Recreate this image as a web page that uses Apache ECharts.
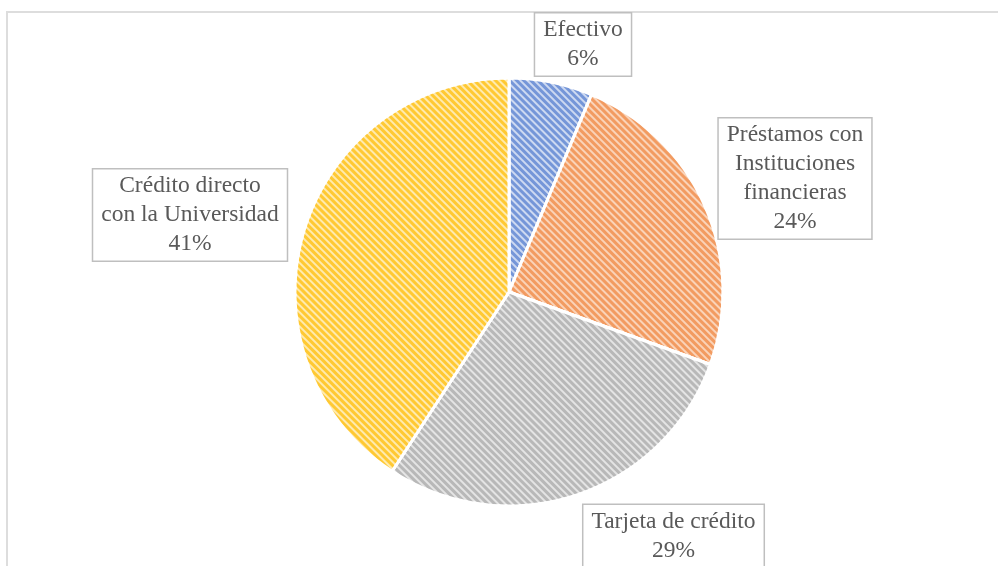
<!DOCTYPE html>
<html>
<head>
<meta charset="utf-8">
<script src="https://cdn.jsdelivr.net/npm/echarts@6/dist/echarts.min.js"></script>
<style>
html,body{margin:0;padding:0;background:#fff;}
#c{width:998px;height:566px;}
</style>
</head>
<body>
<div id="c"></div>
<script>
// Data
var categories = ['Efectivo', 'Préstamos con\nInstituciones\nfinancieras', 'Tarjeta de crédito', 'Crédito directo\ncon la Universidad'];
var values = [6.3, 24.2, 28.7, 40.8];

// Styles
var baseColors = ['#CDD9F1', '#FAD3B8', '#E4E4E4', '#FFEAAE'];
var stripeColors = ['#7596D8', '#F29B61', '#B8B8B8', '#FFC933'];
var labelPos = [[583, 44.5], [795, 178.5], [673.5, 536], [190, 215]];

var chart = echarts.init(document.getElementById('c'));
var data = categories.map(function (name, i) {
  return {
    name: name,
    value: values[i],
    itemStyle: {
      color: baseColors[i],
      decal: {
        symbol: 'rect',
        symbolSize: 1,
        dashArrayX: [1, 0],
        dashArrayY: [2.2, 2],
        rotation: Math.PI / 4,
        color: stripeColors[i]
      }
    }
  };
});

chart.setOption({
  animation: false,
  aria: { enabled: true, decal: { show: true } },
  graphic: [{
    type: 'rect',
    shape: { x: 7, y: 12, width: 1200, height: 800 },
    style: { fill: 'none', stroke: '#DDDDDD', lineWidth: 2 },
    silent: true,
    z: -10
  }],
  series: [{
    type: 'pie',
    center: [509, 292],
    radius: [0, 214],
    startAngle: 90,
    clockwise: true,
    itemStyle: { borderColor: '#ffffff', borderWidth: 3 },
    labelLine: { show: false },
    label: {
      show: true,
      position: 'outside',
      formatter: function (p) { return p.name + '\n' + Math.round(p.percent) + '%'; },
      fontFamily: 'Liberation Serif',
      fontSize: 23.5,
      lineHeight: 29,
      color: '#595959',
      backgroundColor: '#ffffff',
      borderColor: '#BFBFBF',
      borderWidth: 1.5,
      padding: [2, 8],
      align: 'center'
    },
    labelLayout: function (p) {
      var pos = labelPos[p.dataIndex];
      return { x: pos[0], y: pos[1], align: 'center', verticalAlign: 'middle', hideOverlap: false };
    },
    data: data
  }]
});
</script>
</body>
</html>
